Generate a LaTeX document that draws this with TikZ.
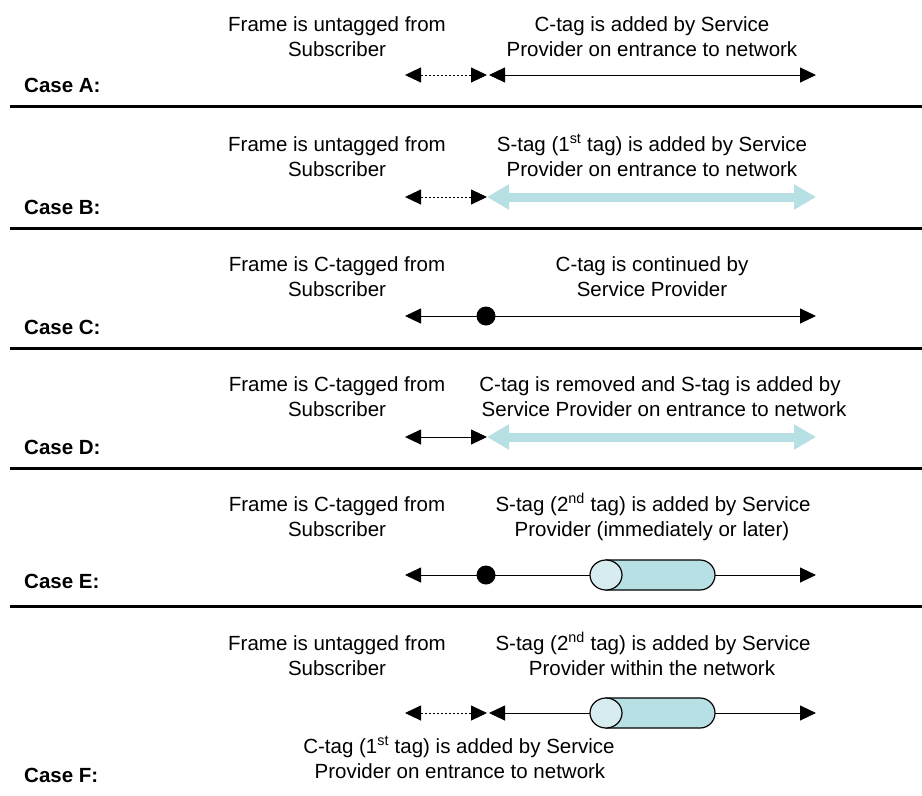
\documentclass[tikz,border=0pt]{standalone}
\usepackage{fontspec}
\setmainfont{Liberation Sans}
\usetikzlibrary{arrows.meta}
\definecolor{sblue}{RGB}{183,224,228}
\definecolor{sblueL}{RGB}{214,236,238}
\tikzset{
  txt/.style={anchor=base,inner sep=0pt,font=\fontsize{20.5}{24}\selectfont},
  lbl/.style={anchor=base west,inner sep=0pt,font=\fontsize{20.5}{24}\selectfont\bfseries},
  sep/.style={line width=3pt,black},
  blk/.style={line width=0.9pt,{Triangle[length=16pt,width=15pt]}-{Triangle[length=16pt,width=15pt]}},
  dots/.style={blk,dash pattern=on 2pt off 2pt},
  bluearr/.style={line width=9pt,sblue,{Triangle[length=22pt,width=24pt]}-{Triangle[length=22pt,width=24pt]}},
  dotc/.style={circle,fill=black,inner sep=0pt,minimum size=19pt},
}
\newcommand{\cyl}[2]{%
  \filldraw[fill=sblue,line width=1.2pt] (606,#1-15) -- (700,#1-15) arc[start angle=-90,end angle=90,radius=15] -- (606,#1+15) -- cycle;
  \filldraw[fill=sblueL,line width=1.2pt] (606,#1) ellipse[x radius=16,y radius=15];
  \coordinate (#2) at (606,#1);}
\begin{document}
\begin{tikzpicture}[x=1pt,y=-1pt]
\useasboundingbox (0,0) rectangle (922,796);
% separators
\foreach \y/\n in {106/s1,228/s2,348/s3,468/s4,606/s5}{
  \coordinate (\n a) at (10,\y); \coordinate (\n b) at (922,\y);
  \draw[sep] (\n a) -- (\n b);}
% ---- Case A
\node[txt] (al1) at (337,31) {Frame is untagged from};
\node[txt] (al2) at (337,56) {Subscriber};
\node[txt] (ar1) at (652,31) {C-tag is added by Service};
\node[txt] (ar2) at (652,56) {Provider on entrance to network};
\node[lbl] (la) at (24,92) {Case A:};
\coordinate (a0) at (405,75); \coordinate (a1) at (487,75); \coordinate (a2) at (489,75); \coordinate (a3) at (816,75);
\draw[dots] (a0) -- (a1);
\draw[blk] (a2) -- (a3);
% ---- Case B
\node[txt] (bl1) at (337,151) {Frame is untagged from};
\node[txt] (bl2) at (337,176) {Subscriber};
\node[txt] (br1) at (652,151) {S-tag (1\textsuperscript{st} tag) is added by Service};
\node[txt] (br2) at (652,176) {Provider on entrance to network};
\node[lbl] (lb) at (24,214) {Case B:};
\coordinate (b0) at (405,197); \coordinate (b1) at (487,197); \coordinate (b3) at (816,197);
\draw[dots] (b0) -- (b1);
\draw[bluearr] (b1) -- (b3);
% ---- Case C
\node[txt] (cl1) at (337,271) {Frame is C-tagged from};
\node[txt] (cl2) at (337,296) {Subscriber};
\node[txt] (cr1) at (652,271) {C-tag is continued by};
\node[txt] (cr2) at (652,296) {Service Provider};
\node[lbl] (lc) at (24,334) {Case C:};
\coordinate (c0) at (405,316); \coordinate (c3) at (816,316);
\draw[blk] (c0) -- (c3);
\node[dotc] (cd) at (486,316) {};
% ---- Case D
\node[txt] (dl1) at (337,391) {Frame is C-tagged from};
\node[txt] (dl2) at (337,416) {Subscriber};
\node[txt] (dr1) at (660,391) {C-tag is removed and S-tag is added by};
\node[txt] (dr2) at (664,416) {Service Provider on entrance to network};
\node[lbl] (ld) at (24,454) {Case D:};
\coordinate (d0) at (405,437); \coordinate (d1) at (487,437); \coordinate (d3) at (816,437);
\draw[blk] (d0) -- (d1);
\draw[bluearr] (d1) -- (d3);
% ---- Case E
\node[txt] (el1) at (337,511) {Frame is C-tagged from};
\node[txt] (el2) at (337,536) {Subscriber};
\node[txt] (er1) at (653,511) {S-tag (2\textsuperscript{nd} tag) is added by Service};
\node[txt] (er2) at (652,536) {Provider (immediately or later)};
\node[lbl] (le) at (24,588) {Case E:};
\coordinate (e0) at (405,575); \coordinate (e3) at (816,575);
\draw[blk] (e0) -- (e3);
\node[dotc] (ed) at (486,575) {};
\cyl{575}{ecyl}
% ---- Case F
\node[txt] (fl1) at (337,650) {Frame is untagged from};
\node[txt] (fl2) at (337,675) {Subscriber};
\node[txt] (fr1) at (653,650) {S-tag (2\textsuperscript{nd} tag) is added by Service};
\node[txt] (fr2) at (652,675) {Provider within the network};
\node[txt] (fb1) at (459,753) {C-tag (1\textsuperscript{st} tag) is added by Service};
\node[txt] (fb2) at (460,778) {Provider on entrance to network};
\node[lbl] (lf) at (24,782) {Case F:};
\coordinate (f0) at (405,713); \coordinate (f1) at (487,713); \coordinate (f2) at (489,713); \coordinate (f3) at (816,713);
\draw[dots] (f0) -- (f1);
\draw[blk] (f2) -- (f3);
\cyl{713}{fcyl}
\end{tikzpicture}
\end{document}
